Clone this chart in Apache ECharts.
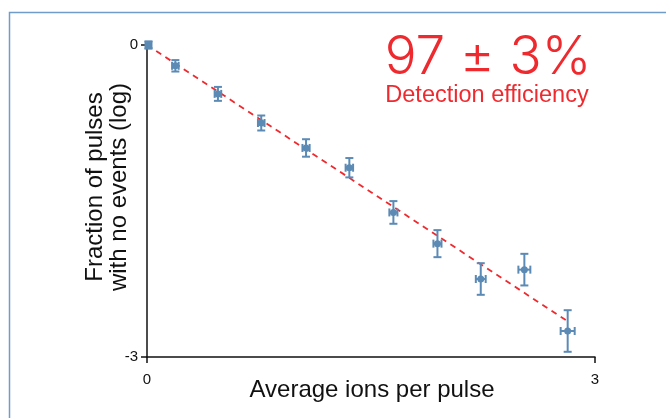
<!DOCTYPE html>
<html>
<head>
<meta charset="utf-8">
<script src="https://cdn.jsdelivr.net/npm/echarts@6/dist/echarts.min.js"></script>
<style>
  html, body { margin: 0; padding: 0; background: #fff; }
  #chart { width: 666px; height: 418px; }
</style>
</head>
<body>
<div id="chart"></div>
<script>
// average ions per pulse, log fraction of pulses with no events
var ions = [0.01, 0.19, 0.475, 0.765, 1.065, 1.355, 1.65, 1.945, 2.235, 2.527, 2.817];
var logFraction = [0, -0.20, -0.47, -0.75, -0.99, -1.18, -1.61, -1.91, -2.25, -2.16, -2.75];
var yErr = [0.035, 0.055, 0.067, 0.072, 0.084, 0.093, 0.109, 0.13, 0.152, 0.152, 0.20];
var xErr = [0.02, 0.022, 0.022, 0.022, 0.024, 0.025, 0.027, 0.027, 0.033, 0.04, 0.047];
// fitted line (97% efficiency)
var fitX = [0, 2.82];
var fitY = [0, -2.66];
var xTicks = [0, 3];
var yTicks = [-3, 0];

var blue = '#5b8ab5';
var red = '#ee2a2f';
var font = 'Liberation Sans, Helvetica, Arial, sans-serif';

var points = ions.map(function (x, i) {
  return [x, logFraction[i], xErr[i], yErr[i]];
});

function renderErr(params, api) {
  var x = api.value(0), y = api.value(1), dx = api.value(2), dy = api.value(3);
  var c = api.coord([x, y]);
  var top = api.coord([x, y + dy]);
  var bot = api.coord([x, y - dy]);
  var lft = api.coord([x - dx, y]);
  var rgt = api.coord([x + dx, y]);
  var cap = 4;
  var st = { stroke: blue, lineWidth: 2 };
  return {
    type: 'group',
    children: [
      { type: 'line', shape: { x1: c[0], y1: top[1], x2: c[0], y2: bot[1] }, style: st },
      { type: 'line', shape: { x1: c[0] - cap, y1: top[1], x2: c[0] + cap, y2: top[1] }, style: st },
      { type: 'line', shape: { x1: c[0] - cap, y1: bot[1], x2: c[0] + cap, y2: bot[1] }, style: st },
      { type: 'line', shape: { x1: lft[0], y1: c[1], x2: rgt[0], y2: c[1] }, style: st },
      { type: 'line', shape: { x1: lft[0], y1: c[1] - cap, x2: lft[0], y2: c[1] + cap }, style: st },
      { type: 'line', shape: { x1: rgt[0], y1: c[1] - cap, x2: rgt[0], y2: c[1] + cap }, style: st },
      { type: 'circle', shape: { cx: c[0], cy: c[1], r: 3.5 }, style: { fill: blue } }
    ]
  };
}

var chart = echarts.init(document.getElementById('chart'));
chart.setOption({
  animation: false,
  grid: { left: 147, top: 45, width: 448, height: 312 },
  xAxis: {
    type: 'value', min: xTicks[0], max: xTicks[1], interval: 3,
    axisLine: { onZero: false, lineStyle: { color: '#111', width: 1.5 } },
    axisTick: { show: true, length: 6, lineStyle: { color: '#111', width: 1.5 } },
    axisLabel: { color: '#111', fontSize: 15, fontFamily: font, margin: 15 },
    splitLine: { show: false }
  },
  yAxis: {
    type: 'value', min: yTicks[0], max: yTicks[1], interval: 3,
    axisLine: { show: true, onZero: false, lineStyle: { color: '#111', width: 1.5 } },
    axisTick: { show: true, length: 6, lineStyle: { color: '#111', width: 1.5 } },
    axisLabel: { color: '#111', fontSize: 15, fontFamily: font, margin: 9 },
    splitLine: { show: false }
  },
  series: [
    {
      type: 'line',
      data: fitX.map(function (x, i) { return [x, fitY[i]]; }),
      showSymbol: false,
      lineStyle: { color: red, width: 1.8, type: [6, 5] },
      z: 1
    },
    {
      type: 'custom',
      data: points,
      renderItem: renderErr,
      z: 2
    }
  ],
  graphic: [
    {
      type: 'rect', left: 7, top: 10, z: -1,
      shape: { width: 700, height: 450 },
      style: { fill: null, stroke: '#6f9cc9', lineWidth: 1.5 }
    },
    {
      type: 'text', x: 488, y: 58,
      style: { text: '97 \u00b1 3%', fill: red, font: '300 53px Inter, ' + font, align: 'center', verticalAlign: 'middle' }
    },
    {
      type: 'text', x: 487, y: 96,
      style: { text: 'Detection efficiency', fill: red, font: '23.5px ' + font, align: 'center', verticalAlign: 'middle' }
    },
    {
      type: 'text', x: 372, y: 390,
      style: { text: 'Average ions per pulse', fill: '#111', font: '24px ' + font, align: 'center', verticalAlign: 'middle' }
    },
    {
      type: 'text', x: 107, y: 187, rotation: Math.PI / 2,
      style: { text: 'Fraction of pulses\nwith no events (log)', fill: '#111', font: '24px ' + font, lineHeight: 24, align: 'center', verticalAlign: 'middle' }
    }
  ]
});
</script>
</body>
</html>
